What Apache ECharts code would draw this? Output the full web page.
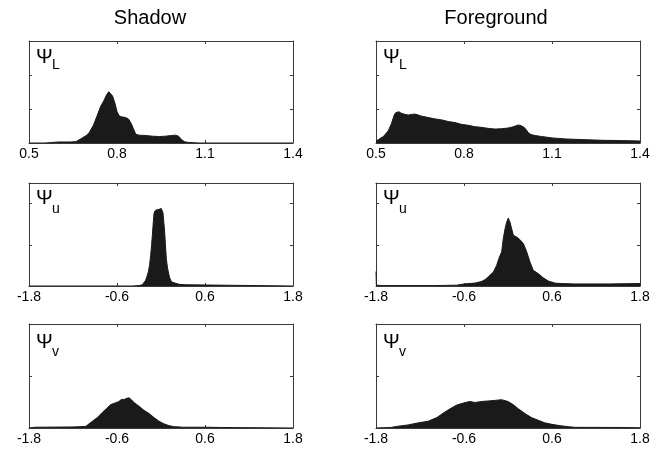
<!DOCTYPE html>
<html>
<head>
<meta charset="utf-8">
<script src="https://cdn.jsdelivr.net/npm/echarts@6/dist/echarts.min.js"></script>
<style>html,body{margin:0;padding:0;background:#fff}#c{width:663px;height:450px}</style>
</head>
<body>
<div id="c"></div>
<script>
// ---- data (histogram outlines) ----
var columnTitles = ['Shadow', 'Foreground'];
var rowSymbols = ['L', 'u', 'v'];
var ticksL = [0.5, 0.8, 1.1, 1.4];
var ticksUV = [-1.8, -0.6, 0.6, 1.8];

var shadowL = [[0.5,0],[0.555,0],[0.56,0.03],[0.60,0.03],[0.64,0.03],[0.66,0.04],[0.665,0.06],[0.68,0.14],[0.695,0.22],[0.705,0.3],[0.72,0.53],[0.733,0.82],[0.744,1.07],[0.756,1.26],[0.764,1.41],[0.772,1.51],[0.777,1.5],[0.785,1.38],[0.793,1.17],[0.80,0.93],[0.807,0.8],[0.815,0.77],[0.83,0.75],[0.84,0.7],[0.848,0.58],[0.857,0.4],[0.864,0.26],[0.875,0.23],[0.9,0.22],[0.92,0.2],[0.945,0.19],[0.965,0.2],[0.985,0.22],[1.0,0.23],[1.01,0.2],[1.02,0.1],[1.03,0.04],[1.04,0.02],[1.06,0.01],[1.08,0],[1.4,0]];

var fgL = [[0.5,0.05],[0.508,0.1],[0.525,0.19],[0.542,0.36],[0.553,0.58],[0.562,0.82],[0.567,0.89],[0.572,0.91],[0.578,0.92],[0.585,0.88],[0.595,0.85],[0.61,0.82],[0.62,0.84],[0.633,0.85],[0.645,0.82],[0.656,0.79],[0.678,0.75],[0.70,0.71],[0.724,0.68],[0.747,0.63],[0.77,0.6],[0.79,0.55],[0.815,0.52],[0.837,0.48],[0.86,0.46],[0.883,0.43],[0.906,0.41],[0.928,0.42],[0.95,0.44],[0.965,0.47],[0.975,0.5],[0.985,0.53],[0.995,0.51],[1.005,0.46],[1.013,0.38],[1.02,0.3],[1.028,0.25],[1.042,0.22],[1.065,0.19],[1.1,0.15],[1.144,0.12],[1.2,0.1],[1.27,0.08],[1.337,0.07],[1.4,0.06]];

var shadowU = [[-1.8,0],[-0.42,0],[-0.41,0.02],[-0.39,0],[-0.3,0.01],[-0.255,0.03],[-0.23,0.07],[-0.209,0.14],[-0.19,0.24],[-0.173,0.34],[-0.155,0.52],[-0.141,0.74],[-0.128,1.0],[-0.118,1.23],[-0.105,1.55],[-0.095,1.76],[-0.083,1.82],[-0.078,1.6],[-0.073,1.84],[-0.05,1.8],[-0.027,1.86],[0.004,1.88],[0.015,1.83],[0.027,1.78],[0.038,1.55],[0.05,1.31],[0.062,0.95],[0.073,0.66],[0.087,0.46],[0.1,0.34],[0.115,0.22],[0.132,0.14],[0.155,0.09],[0.177,0.06],[0.25,0.04],[0.336,0.03],[0.36,0],[1.8,0]];

var fgU = [[-1.8,0.35],[-1.795,0.02],[-1.7,0.01],[-1.0,0.01],[-0.7,0.02],[-0.6,0.05],[-0.45,0.07],[-0.36,0.11],[-0.31,0.16],[-0.27,0.22],[-0.2,0.34],[-0.155,0.5],[-0.118,0.7],[-0.086,0.83],[-0.075,1.0],[-0.064,1.15],[-0.04,1.39],[-0.018,1.55],[0.004,1.65],[0.015,1.6],[0.027,1.55],[0.05,1.39],[0.073,1.23],[0.095,1.2],[0.118,1.19],[0.16,1.13],[0.21,1.03],[0.255,0.83],[0.3,0.58],[0.345,0.38],[0.414,0.3],[0.48,0.2],[0.55,0.12],[0.64,0.07],[0.73,0.06],[0.91,0.05],[1.37,0.05],[1.8,0.06]];

var shadowV = [[-1.8,0],[-1.72,0.015],[-1.2,0.02],[-1.03,0.03],[-1.0,0.06],[-0.936,0.13],[-0.868,0.2],[-0.8,0.3],[-0.745,0.37],[-0.686,0.45],[-0.627,0.48],[-0.573,0.51],[-0.54,0.55],[-0.505,0.545],[-0.47,0.57],[-0.436,0.58],[-0.4,0.54],[-0.368,0.49],[-0.3,0.42],[-0.232,0.34],[-0.164,0.28],[-0.095,0.2],[-0.027,0.13],[0.04,0.08],[0.11,0.045],[0.18,0.026],[0.3,0.015],[0.6,0.015],[0.81,0.01],[0.83,0],[1.8,0]];

var fgV = [[-1.8,0],[-1.6,0.01],[-1.52,0.03],[-1.36,0.06],[-1.22,0.1],[-1.09,0.13],[-0.97,0.2],[-0.88,0.29],[-0.79,0.37],[-0.7,0.44],[-0.61,0.48],[-0.52,0.51],[-0.45,0.49],[-0.36,0.51],[-0.27,0.52],[-0.18,0.53],[-0.09,0.545],[0.0,0.51],[0.07,0.45],[0.14,0.37],[0.23,0.28],[0.32,0.2],[0.41,0.15],[0.5,0.1],[0.6,0.07],[0.71,0.045],[0.82,0.026],[0.91,0.013],[1.55,0.01],[1.8,0.005]];

var yMaxByRow = [3, 2.5, 2];

// ---- layout ----
var colLeft = [29, 376];
var plotW = 264;
var rowTop = [41, 183, 324];
var rowH = [102, 103, 104];
var panels = [
  {row:0, col:0, data:shadowL, ticks:ticksL},
  {row:0, col:1, data:fgL, ticks:ticksL},
  {row:1, col:0, data:shadowU, ticks:ticksUV},
  {row:1, col:1, data:fgU, ticks:ticksUV},
  {row:2, col:0, data:shadowV, ticks:ticksUV},
  {row:2, col:1, data:fgV, ticks:ticksUV}
];
var boxColor = '#3a3a3a';
var fillColor = '#1a1a1a';
var font = 'Liberation Sans, Arial, sans-serif';

var grid = [], xAxis = [], yAxis = [], series = [], graphic = [];
panels.forEach(function (p, i) {
  grid.push({left: colLeft[p.col], top: rowTop[p.row], width: plotW, height: rowH[p.row], containLabel: false});
  var t = p.ticks;
  var xmin = t[0], xmax = t[t.length - 1], xint = t[1] - t[0];
  var common = {
    type: 'value', gridIndex: i, min: xmin, max: xmax, interval: xint,
    axisLine: {show: true, onZero: false, lineStyle: {color: boxColor, width: 1}},
    axisTick: {show: true, inside: true, length: 3, lineStyle: {color: boxColor}},
    splitLine: {show: false}
  };
  xAxis.push(Object.assign({}, common, {position: 'bottom',
    axisLabel: {show: true, margin: 4, color: '#000', fontSize: 14, fontFamily: font,
      formatter: function (v) { return (Math.round(v * 10) / 10).toFixed(1); }}}));
  xAxis.push(Object.assign({}, common, {position: 'top', axisLabel: {show: false}}));
  var yc = {
    type: 'value', gridIndex: i, min: 0, max: yMaxByRow[p.row], interval: 1,
    axisLine: {show: true, onZero: false, lineStyle: {color: boxColor, width: 1}},
    axisTick: {show: true, inside: true, length: 3, lineStyle: {color: boxColor}},
    axisLabel: {show: false}, splitLine: {show: false}
  };
  yAxis.push(Object.assign({}, yc, {position: 'left'}));
  yAxis.push(Object.assign({}, yc, {position: 'right'}));
  series.push({
    type: 'line', xAxisIndex: 2 * i, yAxisIndex: 2 * i, data: p.data,
    showSymbol: false, symbol: 'none', smooth: false, silent: true,
    lineStyle: {color: fillColor, width: 1},
    areaStyle: {color: fillColor, opacity: 1},
    animation: false
  });
  // Psi label
  var lx = colLeft[p.col] + 7;
  var psiY = [57.5, 198.5, 342.5][p.row];
  var subY = [65.5, 209.5, 352][p.row];
  graphic.push({type: 'text', x: lx, y: psiY, z: 100,
    style: {text: '\u03A8', fontSize: 20, fontFamily: font, fill: '#000', verticalAlign: 'middle', align: 'left'}});
  graphic.push({type: 'text', x: lx + 16, y: subY, z: 100,
    style: {text: rowSymbols[p.row], fontSize: 14, fontFamily: font, fill: '#000', verticalAlign: 'middle', align: 'left'}});
});

graphic.push({type: 'text', x: 150, y: 18.5, style: {text: columnTitles[0], fontSize: 20, fontFamily: font, fill: '#000', align: 'center', verticalAlign: 'middle'}});
graphic.push({type: 'text', x: 496, y: 18.5, style: {text: columnTitles[1], fontSize: 20, fontFamily: font, fill: '#000', align: 'center', verticalAlign: 'middle'}});

var chart = echarts.init(document.getElementById('c'), null, {renderer: 'canvas'});
chart.setOption({
  animation: false,
  backgroundColor: '#fff',
  grid: grid, xAxis: xAxis, yAxis: yAxis, series: series, graphic: graphic
});
</script>
</body>
</html>
